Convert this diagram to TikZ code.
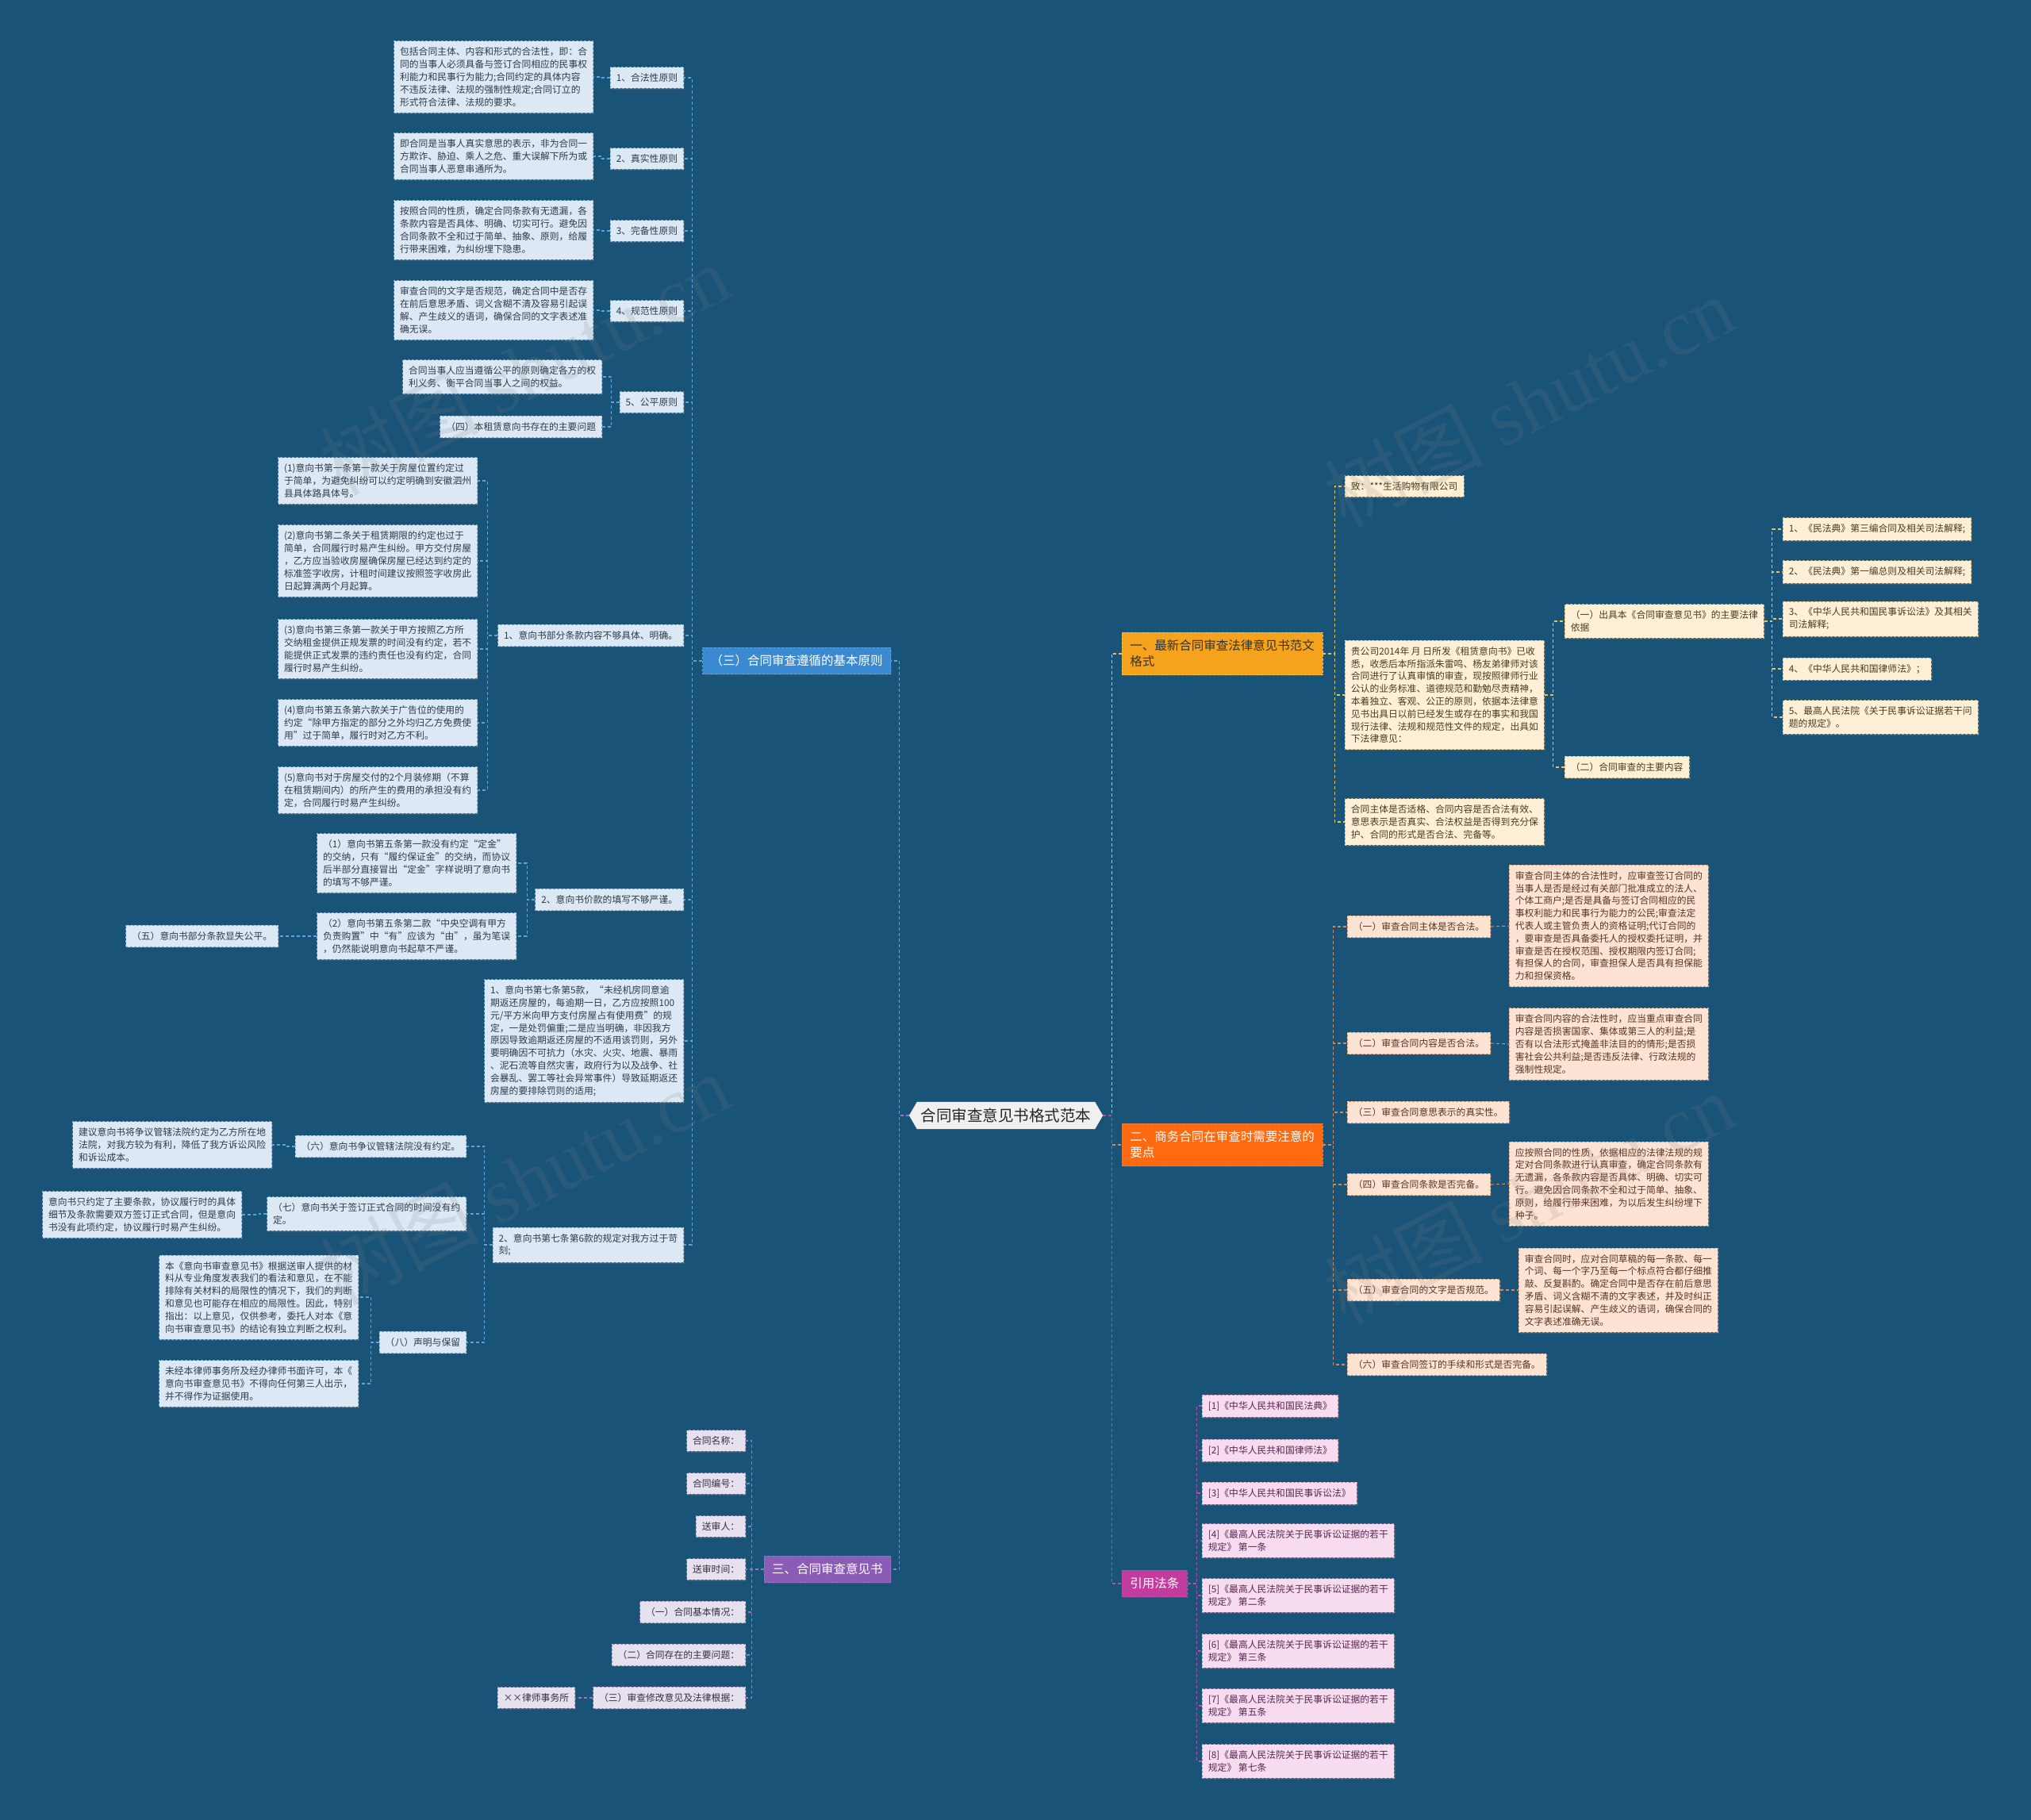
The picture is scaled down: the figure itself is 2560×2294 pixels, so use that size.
\documentclass[tikz,border=0pt]{standalone}
\usepackage{fontspec}
\setmainfont{Noto Sans CJK SC}
\newfontfamily\wmfont{Liberation Serif}
\usetikzlibrary{shapes.symbols,shadows}
\definecolor{bg}{HTML}{1A5378}
\definecolor{aFill}{HTML}{DCE8F4}\definecolor{aBorder}{HTML}{7FA6CB}\definecolor{aText}{HTML}{2E3B48}\definecolor{aLine}{HTML}{5BA3E0}\definecolor{aMain}{HTML}{3A8AD2}
\definecolor{bFill}{HTML}{E6E0EF}\definecolor{bBorder}{HTML}{9C8AB8}\definecolor{bText}{HTML}{33303A}\definecolor{bLine}{HTML}{9A74C8}\definecolor{bMain}{HTML}{8B5CB6}
\definecolor{cFill}{HTML}{FDF0D6}\definecolor{cBorder}{HTML}{C8A870}\definecolor{cText}{HTML}{4A3A20}\definecolor{cLine}{HTML}{E8C25A}\definecolor{cMain}{HTML}{F5A31C}
\definecolor{dFill}{HTML}{FCE3D3}\definecolor{dBorder}{HTML}{C89878}\definecolor{dText}{HTML}{5A3323}\definecolor{dLine}{HTML}{D08A5A}\definecolor{dMain}{HTML}{FF6A10}
\definecolor{eFill}{HTML}{F6DCEE}\definecolor{eBorder}{HTML}{B888AC}\definecolor{eText}{HTML}{5A2550}\definecolor{eLine}{HTML}{B452A0}\definecolor{eMain}{HTML}{C13C9E}
\tikzset{
 base/.style={rectangle, draw, dash pattern=on 3pt off 2pt, line width=0.8pt, inner xsep=7.5pt, inner ysep=8pt, align=left,
   font=\fontsize{11.8}{15.8}\selectfont, drop shadow={shadow xshift=1.5pt, shadow yshift=-1.5pt, opacity=0.25}},
 aleaf/.style={base, fill=aFill, draw=aBorder, text=aText},
 bleaf/.style={base, fill=bFill, draw=bBorder, text=bText},
 cleaf/.style={base, fill=cFill, draw=cBorder, text=cText},
 dleaf/.style={base, fill=dFill, draw=dBorder, text=dText},
 eleaf/.style={base, fill=eFill, draw=eBorder, text=eText},
 brnode/.style={base, inner xsep=10pt, inner ysep=9.5pt, font=\fontsize{15.5}{20}\selectfont},
 conn/.style={line width=1.1pt, dash pattern=on 4pt off 3pt},
 aconn/.style={conn, draw=aLine}, bconn/.style={conn, draw=bLine}, cconn/.style={conn, draw=cLine},
 dconn/.style={conn, draw=dLine}, econn/.style={conn, draw=eLine},
}
\begin{document}
\begin{tikzpicture}[x=1pt,y=-1pt]
\useasboundingbox (0,0) rectangle (2560,2294);
\fill[bg] (0,0) rectangle (2560,2294);

% ---------------- center
\node[signal, signal to=east and west, signal pointer angle=120, fill=white!94!black, text=black!85, inner xsep=5pt, inner ysep=8pt,
  font=\fontsize{19.5}{22}\selectfont] (ctr) at (1268,1406) {合同审查意见书格式范本};

% ---------------- branch A (left, blue)
\node[brnode, fill=aMain, draw=aLine, text=white, anchor=east] (A) at (1123,833) {（三）合同审查遵循的基本原则};

\node[aleaf, anchor=east] (a1) at (862,98) {1、合法性原则};
\node[aleaf, anchor=east] (a1c) at (748,97) {包括合同主体、内容和形式的合法性，即：合\\同的当事人必须具备与签订合同相应的民事权\\利能力和民事行为能力;合同约定的具体内容\\不违反法律、法规的强制性规定;合同订立的\\形式符合法律、法规的要求。};
\node[aleaf, anchor=east] (a2) at (862,200) {2、真实性原则};
\node[aleaf, anchor=east] (a2c) at (748,197) {即合同是当事人真实意思的表示，非为合同一\\方欺诈、胁迫、乘人之危、重大误解下所为或\\合同当事人恶意串通所为。};
\node[aleaf, anchor=east] (a3) at (862,291) {3、完备性原则};
\node[aleaf, anchor=east] (a3c) at (748,290) {按照合同的性质，确定合同条款有无遗漏，各\\条款内容是否具体、明确、切实可行。避免因\\合同条款不全和过于简单、抽象、原则，给履\\行带来困难，为纠纷埋下隐患。};
\node[aleaf, anchor=east] (a4) at (862,392) {4、规范性原则};
\node[aleaf, anchor=east] (a4c) at (748,391) {审查合同的文字是否规范，确定合同中是否存\\在前后意思矛盾、词义含糊不清及容易引起误\\解、产生歧义的语词，确保合同的文字表述准\\确无误。};
\node[aleaf, anchor=east] (a5) at (862,507) {5、公平原则};
\node[aleaf, anchor=east] (a5c1) at (759,475) {合同当事人应当遵循公平的原则确定各方的权\\利义务、衡平合同当事人之间的权益。};
\node[aleaf, anchor=east] (a5c2) at (759,538) {（四）本租赁意向书存在的主要问题};

\node[aleaf, anchor=east] (a6) at (862,801) {1、意向书部分条款内容不够具体、明确。};
\node[aleaf, anchor=east] (a6c1) at (602,606) {(1)意向书第一条第一款关于房屋位置约定过\\于简单，为避免纠纷可以约定明确到安徽泗州\\县具体路具体号。};
\node[aleaf, anchor=east] (a6c2) at (602,707) {(2)意向书第二条关于租赁期限的约定也过于\\简单，合同履行时易产生纠纷。甲方交付房屋\\，乙方应当验收房屋确保房屋已经达到约定的\\标准签字收房，计租时间建议按照签字收房此\\日起算满两个月起算。};
\node[aleaf, anchor=east] (a6c3) at (602,818) {(3)意向书第三条第一款关于甲方按照乙方所\\交纳租金提供正规发票的时间没有约定，若不\\能提供正式发票的违约责任也没有约定，合同\\履行时易产生纠纷。};
\node[aleaf, anchor=east] (a6c4) at (602,911) {(4)意向书第五条第六款关于广告位的使用的\\约定“除甲方指定的部分之外均归乙方免费使\\用”过于简单，履行时对乙方不利。};
\node[aleaf, anchor=east] (a6c5) at (602,996) {(5)意向书对于房屋交付的2个月装修期（不算\\在租赁期间内）的所产生的费用的承担没有约\\定，合同履行时易产生纠纷。};

\node[aleaf, anchor=east] (a7) at (862,1134) {2、意向书价款的填写不够严谨。};
\node[aleaf, anchor=east] (a7c1) at (651,1088) {（1）意向书第五条第一款没有约定“定金”\\的交纳，只有“履约保证金”的交纳，而协议\\后半部分直接冒出“定金”字样说明了意向书\\的填写不够严谨。};
\node[aleaf, anchor=east] (a7c2) at (651,1180) {（2）意向书第五条第二款“中央空调有甲方\\负责购置”中“有”应该为“由”，虽为笔误\\，仍然能说明意向书起草不严谨。};
\node[aleaf, anchor=east] (a7c2c) at (351,1180) {（五）意向书部分条款显失公平。};

\node[aleaf, anchor=east] (a8) at (862,1312) {1、意向书第七条第5款，“未经机房同意逾\\期返还房屋的，每逾期一日，乙方应按照100\\元/平方米向甲方支付房屋占有使用费”的规\\定，一是处罚偏重;二是应当明确，非因我方\\原因导致逾期返还房屋的不适用该罚则，另外\\要明确因不可抗力（水灾、火灾、地震、暴雨\\、泥石流等自然灾害，政府行为以及战争、社\\会暴乱、罢工等社会异常事件）导致延期返还\\房屋的要排除罚则的适用;};

\node[aleaf, anchor=east] (a9) at (862,1569) {2、意向书第七条第6款的规定对我方过于苛\\刻;};
\node[aleaf, anchor=east] (a9c1) at (588,1445) {（六）意向书争议管辖法院没有约定。};
\node[aleaf, anchor=east] (a9c1c) at (343,1443) {建议意向书将争议管辖法院约定为乙方所在地\\法院，对我方较为有利，降低了我方诉讼风险\\和诉讼成本。};
\node[aleaf, anchor=east] (a9c2) at (588,1530) {（七）意向书关于签订正式合同的时间没有约\\定。};
\node[aleaf, anchor=east] (a9c2c) at (305,1531) {意向书只约定了主要条款，协议履行时的具体\\细节及条款需要双方签订正式合同，但是意向\\书没有此项约定，协议履行时易产生纠纷。};
\node[aleaf, anchor=east] (a9c3) at (588,1692) {（八）声明与保留};
\node[aleaf, anchor=east] (a9c3c1) at (452,1635) {本《意向书审查意见书》根据送审人提供的材\\料从专业角度发表我们的看法和意见，在不能\\排除有关材料的局限性的情况下，我们的判断\\和意见也可能存在相应的局限性。因此，特别\\指出：以上意见，仅供参考，委托人对本《意\\向书审查意见书》的结论有独立判断之权利。};
\node[aleaf, anchor=east] (a9c3c2) at (452,1744) {未经本律师事务所及经办律师书面许可，本《\\意向书审查意见书》不得向任何第三人出示，\\并不得作为证据使用。};

\foreach \n in {a1,a2,a3,a4,a5,a6,a7,a8,a9} \draw[aconn] (A.west) -- ++(-13,0) |- (\n.east);
\foreach \p/\c in {a1/a1c,a2/a2c,a3/a3c,a4/a4c,a5/a5c1,a5/a5c2,a7/a7c1,a7/a7c2,a7c2/a7c2c,a9/a9c1,a9/a9c2,a9/a9c3,a9c1/a9c1c,a9c2/a9c2c,a9c3/a9c3c1,a9c3/a9c3c2}
  \draw[aconn] (\p.west) -- ++(-10,0) |- (\c.east);
\foreach \c in {a6c1,a6c2,a6c3,a6c4,a6c5} \draw[aconn] (a6.west) -- ++(-13,0) |- (\c.east);

% ---------------- branch B (left, purple)
\node[brnode, fill=bMain, draw=bLine, text=white, anchor=east] (B) at (1123,1978) {三、合同审查意见书};
\node[bleaf, anchor=east] (b1) at (940,1816) {合同名称：};
\node[bleaf, anchor=east] (b2) at (940,1870) {合同编号：};
\node[bleaf, anchor=east] (b3) at (940,1924) {送审人：};
\node[bleaf, anchor=east] (b4) at (940,1978) {送审时间：};
\node[bleaf, anchor=east] (b5) at (940,2032) {（一）合同基本情况：};
\node[bleaf, anchor=east] (b6) at (940,2086) {（二）合同存在的主要问题：};
\node[bleaf, anchor=east] (b7) at (940,2140) {（三）审查修改意见及法律根据：};
\node[bleaf, anchor=east] (b7c) at (725,2140) {××律师事务所};
\foreach \n in {b1,b2,b3,b4,b5,b6,b7} \draw[bconn] (B.west) -- ++(-15,0) |- (\n.east);
\draw[bconn] (b7.west) -- (b7c.east);

% ---------------- branch C (right, orange-yellow)
\node[brnode, fill=cMain, draw=cLine, text=black!80, anchor=west] (C) at (1414,824) {一、最新合同审查法律意见书范文\\格式};
\node[cleaf, anchor=west] (c1) at (1695,613) {致：***生活购物有限公司};
\node[cleaf, anchor=west] (c2) at (1695,876) {贵公司2014年 月 日所发《租赁意向书》已收\\悉，收悉后本所指派朱雷鸣、杨友弟律师对该\\合同进行了认真审慎的审查，现按照律师行业\\公认的业务标准、道德规范和勤勉尽责精神，\\本着独立、客观、公正的原则，依据本法律意\\见书出具日以前已经发生或存在的事实和我国\\现行法律、法规和规范性文件的规定，出具如\\下法律意见：};
\node[cleaf, anchor=west] (c3) at (1695,1036) {合同主体是否适格、合同内容是否合法有效、\\意思表示是否真实、合法权益是否得到充分保\\护、合同的形式是否合法、完备等。};
\node[cleaf, anchor=west] (c21) at (1972,783) {（一）出具本《合同审查意见书》的主要法律\\依据};
\node[cleaf, anchor=west] (c22) at (1972,967) {（二）合同审查的主要内容};
\node[cleaf, anchor=west] (l1) at (2247,667) {1、《民法典》第三编合同及相关司法解释;};
\node[cleaf, anchor=west] (l2) at (2247,721) {2、《民法典》第一编总则及相关司法解释;};
\node[cleaf, anchor=west] (l3) at (2247,780) {3、《中华人民共和国民事诉讼法》及其相关\\司法解释;};
\node[cleaf, anchor=west] (l4) at (2247,843) {4、《中华人民共和国律师法》；};
\node[cleaf, anchor=west] (l5) at (2247,904) {5、最高人民法院《关于民事诉讼证据若干问\\题的规定》。};
\foreach \n in {c1,c2,c3} \draw[cconn] (C.east) -- ++(15,0) |- (\n.west);
\foreach \n in {c21,c22} \draw[cconn] (c2.east) -- ++(11,0) |- (\n.west);
\foreach \n in {l1,l2,l3,l4,l5} \draw[cconn] (c21.east) -- ++(10,0) |- (\n.west);

% ---------------- branch D (right, orange-red)
\node[brnode, fill=dMain, draw=dLine, text=white, anchor=west] (D) at (1414,1443) {二、商务合同在审查时需要注意的\\要点};
\node[dleaf, anchor=west] (d1) at (1698,1168) {（一）审查合同主体是否合法。};
\node[dleaf, anchor=west] (d1c) at (1902,1167) {审查合同主体的合法性时，应审查签订合同的\\当事人是否是经过有关部门批准成立的法人、\\个体工商户;是否是具备与签订合同相应的民\\事权利能力和民事行为能力的公民;审查法定\\代表人或主管负责人的资格证明;代订合同的\\，要审查是否具备委托人的授权委托证明，并\\审查是否在授权范围、授权期限内签订合同;\\有担保人的合同，审查担保人是否具有担保能\\力和担保资格。};
\node[dleaf, anchor=west] (d2) at (1698,1315) {（二）审查合同内容是否合法。};
\node[dleaf, anchor=west] (d2c) at (1902,1316) {审查合同内容的合法性时，应当重点审查合同\\内容是否损害国家、集体或第三人的利益;是\\否有以合法形式掩盖非法目的的情形;是否损\\害社会公共利益;是否违反法律、行政法规的\\强制性规定。};
\node[dleaf, anchor=west] (d3) at (1698,1402) {（三）审查合同意思表示的真实性。};
\node[dleaf, anchor=west] (d4) at (1698,1493) {（四）审查合同条款是否完备。};
\node[dleaf, anchor=west] (d4c) at (1902,1492) {应按照合同的性质，依据相应的法律法规的规\\定对合同条款进行认真审查，确定合同条款有\\无遗漏，各条款内容是否具体、明确、切实可\\行。避免因合同条款不全和过于简单、抽象、\\原则，给履行带来困难，为以后发生纠纷埋下\\种子。};
\node[dleaf, anchor=west] (d5) at (1698,1626) {（五）审查合同的文字是否规范。};
\node[dleaf, anchor=west] (d5c) at (1914,1626) {审查合同时，应对合同草稿的每一条款、每一\\个词、每一个字乃至每一个标点符合都仔细推\\敲、反复斟酌。确定合同中是否存在前后意思\\矛盾、词义含糊不清的文字表述，并及时纠正\\容易引起误解、产生歧义的语词，确保合同的\\文字表述准确无误。};
\node[dleaf, anchor=west] (d6) at (1698,1720) {（六）审查合同签订的手续和形式是否完备。};
\foreach \n in {d1,d2,d3,d4,d5,d6} \draw[dconn] (D.east) -- ++(13,0) |- (\n.west);
\foreach \p/\c in {d1/d1c,d2/d2c,d4/d4c,d5/d5c} \draw[dconn] (\p.east) -- (\c.west);

% ---------------- branch E (right, magenta)
\node[brnode, fill=eMain, draw=eLine, text=white, anchor=west] (E) at (1414,1996) {引用法条};
\node[eleaf, anchor=west] (e1) at (1515,1772) {[1]《中华人民共和国民法典》};
\node[eleaf, anchor=west] (e2) at (1515,1828) {[2]《中华人民共和国律师法》};
\node[eleaf, anchor=west] (e3) at (1515,1882) {[3]《中华人民共和国民事诉讼法》};
\node[eleaf, anchor=west] (e4) at (1515,1942) {[4]《最高人民法院关于民事诉讼证据的若干\\规定》 第一条};
\node[eleaf, anchor=west] (e5) at (1515,2011) {[5]《最高人民法院关于民事诉讼证据的若干\\规定》 第二条};
\node[eleaf, anchor=west] (e6) at (1515,2081) {[6]《最高人民法院关于民事诉讼证据的若干\\规定》 第三条};
\node[eleaf, anchor=west] (e7) at (1515,2150) {[7]《最高人民法院关于民事诉讼证据的若干\\规定》 第五条};
\node[eleaf, anchor=west] (e8) at (1515,2220) {[8]《最高人民法院关于民事诉讼证据的若干\\规定》 第七条};
\foreach \n in {e1,e2,e3,e4,e5,e6,e7,e8} \draw[econn] (E.east) -- ++(12,0) |- (\n.west);

% ---------------- center connectors
\draw[aconn] (ctr.west) -- ++(-12,0) |- (A.east);
\draw[bconn] (ctr.west) -- ++(-12,0) |- (B.east);
\draw[cconn] (ctr.east) -- ++(11,0) |- (C.west);
\draw[dconn] (ctr.east) -- ++(11,0) |- (D.west);
\draw[econn] (ctr.east) -- ++(11,0) |- (E.west);

% ---------------- watermark
\foreach \x/\y in {661/465, 1927/506, 661/1486, 1927/1510}
  \node[rotate=27, opacity=0.16, text=gray, font=\fontsize{100}{110}\selectfont] at (\x,\y) {树图 {\wmfont shutu.cn}};
\end{tikzpicture}
\end{document}
